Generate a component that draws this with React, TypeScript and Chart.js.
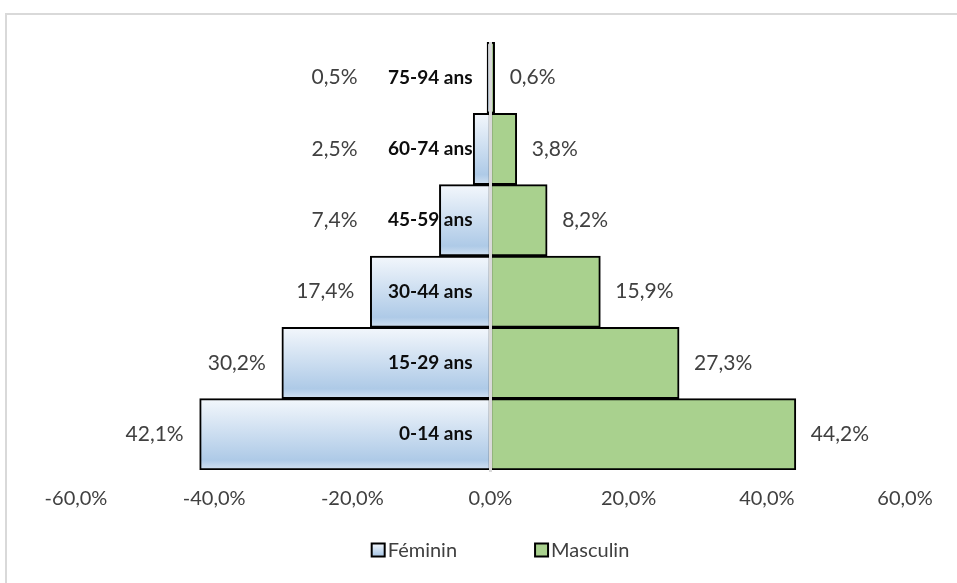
import React, { useEffect, useRef } from "react";
import { Chart, registerables } from "chart.js";
Chart.register(...registerables);

const categories = ["75-94 ans", "60-74 ans", "45-59 ans", "30-44 ans", "15-29 ans", "0-14 ans"];
const feminin = [0.5, 2.5, 7.4, 17.4, 30.2, 42.1];
const masculin = [0.6, 3.8, 8.2, 15.9, 27.3, 44.2];
const seriesNames = ["Féminin", "Masculin"];
const xMin = -60;
const xMax = 60;
const xStep = 20;

const FONT = "Lato, 'Open Sans', sans-serif";
const fmt = (v: number) => Math.abs(v).toFixed(1).replace(".", ",") + "%";
const fmtTick = (v: number) => v.toFixed(1).replace(".", ",") + "%";

function femGradient(g: CanvasRenderingContext2D, top: number, bottom: number) {
  const gr = g.createLinearGradient(0, top, 0, bottom);
  gr.addColorStop(0, "#f3f7fc");
  gr.addColorStop(0.86, "#aecae7");
  gr.addColorStop(1, "#d2e1f1");
  return gr;
}

const overlayPlugin = {
  id: "overlay",
  afterDatasetsDraw(chart: any) {
    const g = chart.ctx as CanvasRenderingContext2D;
    const xs = chart.scales.x;
    const area = chart.chartArea;
    const x0 = xs.getPixelForValue(0);
    const femMeta = chart.getDatasetMeta(0);
    const masMeta = chart.getDatasetMeta(1);
    g.save();
    g.strokeStyle = "#d9d9d9";
    g.lineWidth = 3;
    g.beginPath();
    g.moveTo(x0, area.top);
    g.lineTo(x0, area.bottom + 2);
    g.stroke();

    g.textBaseline = "middle";
    categories.forEach((cat, i) => {
      const fb = femMeta.data[i];
      const mb = masMeta.data[i];
      const y = fb.y;
      g.font = `bold 19px ${FONT}`;
      g.fillStyle = "#0d0d0d";
      g.textAlign = "right";
      g.fillText(cat, x0 - 18, y);
      g.font = `21px ${FONT}`;
      g.fillStyle = "#404040";
      const left = Math.min(fb.x, fb.base);
      g.textAlign = "right";
      g.fillText(fmt(feminin[i]), Math.min(left - 16, x0 - 133), y);
      const right = Math.max(mb.x, mb.base);
      g.textAlign = "left";
      g.fillText(fmt(masculin[i]), right + 15, y);
    });

    const ly = 550;
    g.font = `20px ${FONT}`;
    const box = 13;
    const gapBox = 3;
    const gapItem = 78;
    const widths = seriesNames.map((n) => box + gapBox + g.measureText(n).width);
    const total = widths[0] + gapItem + widths[1];
    let lx = (area.left + area.right) / 2 + 10 - total / 2;
    seriesNames.forEach((n, i) => {
      g.fillStyle = i === 0 ? femGradient(g, ly - box / 2, ly + box / 2) : "#a9d18e";
      g.fillRect(lx, ly - box / 2, box, box);
      g.strokeStyle = "#000";
      g.lineWidth = 2;
      g.strokeRect(lx, ly - box / 2, box, box);
      g.fillStyle = "#404040";
      g.textAlign = "left";
      g.fillText(n, lx + box + gapBox, ly + 1);
      lx += widths[i] + gapItem;
    });
    g.restore();
  },
};

export default function App() {
  const ref = useRef<HTMLCanvasElement>(null);
  useEffect(() => {
    if (!ref.current) return;
    const chart = new Chart(ref.current, {
      type: "bar",
      data: {
        labels: categories,
        datasets: [
          {
            label: seriesNames[0],
            data: feminin.map((v) => -v),
            backgroundColor: (ctx: any) => {
              const chart = ctx.chart;
              const ys = chart.scales?.y;
              if (!ys || ctx.dataIndex === undefined || !chart.chartArea) return "#cddff2";
              const c = ys.getPixelForValue(ctx.dataIndex);
              const h = (chart.chartArea.bottom - chart.chartArea.top) / categories.length;
              return femGradient(chart.ctx, c - h / 2, c + h / 2);
            },
            borderColor: "#000",
            borderWidth: 2,
            borderSkipped: false,
          },
          {
            label: seriesNames[1],
            data: masculin,
            backgroundColor: "#a9d18e",
            borderColor: "#000",
            borderWidth: 2,
            borderSkipped: false,
          },
        ],
      },
      options: {
        indexAxis: "y",
        animation: false,
        responsive: true,
        maintainAspectRatio: false,
        datasets: { bar: { barPercentage: 1, categoryPercentage: 1 } },
        layout: { padding: { left: 76, right: 52, top: 42, bottom: 63 } },
        plugins: {
          legend: { display: false },
          tooltip: { enabled: false },
        },
        scales: {
          x: {
            stacked: true,
            min: xMin,
            max: xMax,
            grid: { display: false },
            border: { display: false },
            ticks: {
              stepSize: xStep,
              padding: 9,
              color: "#404040",
              font: { family: FONT, size: 20 },
              callback: (v: any) => fmtTick(Number(v)),
              maxRotation: 0,
            },
          },
          y: {
            stacked: true,
            display: false,
          },
        },
      },
      plugins: [overlayPlugin],
    });
    return () => chart.destroy();
  }, []);
  return (
    <div style={{ position: "fixed", left: 0, top: 0, width: 957, height: 583, background: "#fff", overflow: "hidden" }}>
      <div style={{ position: "absolute", left: 5, top: 13, width: 1000, height: 1000, border: "2px solid #d9d9d9", boxSizing: "border-box" }} />
      <div style={{ position: "absolute", left: 0, top: 0, width: 957, height: 583 }}>
        <canvas ref={ref} />
      </div>
    </div>
  );
}
